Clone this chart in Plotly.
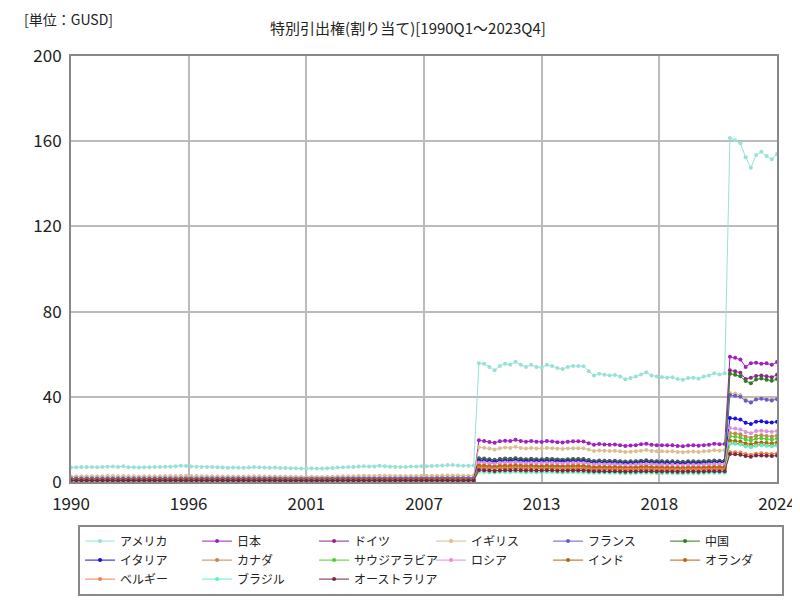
import plotly.graph_objects as go

quarters = [f"{y}Q{q}" for y in range(1990, 2024) for q in range(1, 5)]

names = ["アメリカ", "日本", "ドイツ", "イギリス", "フランス", "中国", "イタリア", "カナダ",
         "サウジアラビア", "ロシア", "インド", "オランダ", "ベルギー", "ブラジル", "オーストラリア"]
colors = ["#98e0d8", "#a020c0", "#8a2a8a", "#d8c090", "#6a5acd", "#2e7d1e", "#1a10e0", "#c08a50",
          "#50d030", "#e090d8", "#a86a10", "#c0600a", "#f08050", "#60f0c0", "#7a2840"]

us = [6.8,6.9,7.0,7.1, 7.0,6.9,7.1,7.2, 7.3,7.0,7.4,6.9, 6.9,6.8,6.9,6.9, 7.0,7.1,7.2,7.2,
      7.4,7.6,7.5,7.3, 7.2,7.1,7.0,7.0, 6.9,6.8,6.7,6.8, 6.7,6.7,6.8,7.0, 6.9,6.8,6.7,6.8,
      6.6,6.6,6.5,6.5, 6.3,6.3,6.4,6.3, 6.3,6.5,6.6,6.8, 6.9,7.0,7.0,7.3, 7.4,7.3,7.3,7.6,
      7.4,7.2,7.1,7.1, 7.1,7.3,7.3,7.4, 7.4,7.5,7.6,7.8, 8.0,8.0,7.7,7.6, 7.6,7.7,
      55.7,55.5,54.0,52.5,54.5,55.5,55.0,56.5,55.0,54.0,55.0,54.0,53.8,55.0,54.5,53.5,
      53.0,54.0,54.5,54.5,54.3,52.0,50.0,50.8,50.3,50.0,50.2,49.5,48.2,48.8,49.5,50.5,
      51.5,50.0,49.5,49.3,49.0,49.2,48.3,48.0,48.8,49.0,48.5,49.5,50.0,51.0,50.5,51.0,
      161.5,160.5,159.0,152.5,147.5,153.5,155.0,153.0,151.5,154.0]
japan = [1.2,1.2,1.3,1.3, 1.3,1.2,1.3,1.3, 1.3,1.3,1.4,1.3, 1.3,1.3,1.3,1.3, 1.3,1.4,1.4,1.4,
         1.4,1.5,1.4,1.4, 1.4,1.3,1.3,1.3, 1.3,1.3,1.2,1.3, 1.2,1.2,1.3,1.3, 1.3,1.3,1.2,1.3,
         1.2,1.2,1.2,1.2, 1.2,1.2,1.2,1.2, 1.2,1.2,1.3,1.3, 1.3,1.3,1.3,1.4, 1.4,1.4,1.4,1.4,
         1.4,1.4,1.3,1.3, 1.3,1.4,1.4,1.4, 1.4,1.4,1.5,1.5, 1.5,1.5,1.4,1.4, 1.4,1.4,
         19.6,19.3,18.8,18.4,19.1,19.4,19.2,19.8,19.3,18.9,19.2,18.9,18.8,19.2,19.0,18.7,
         18.6,18.9,19.1,19.1,19.0,18.2,17.5,17.8,17.6,17.5,17.6,17.3,16.9,17.1,17.3,17.7,
         18.0,17.5,17.3,17.3,17.2,17.2,16.9,16.8,17.1,17.2,17.0,17.3,17.5,17.9,17.7,17.8,
         58.8,58.3,57.5,54.0,55.8,56.0,55.5,55.7,55.0,56.3]
germany = [1.7,1.7,1.8,1.8, 1.8,1.7,1.8,1.8, 1.8,1.7,1.8,1.7, 1.7,1.7,1.7,1.7, 1.7,1.8,1.8,1.8,
           1.8,1.9,1.9,1.8, 1.8,1.8,1.8,1.8, 1.7,1.7,1.7,1.7, 1.7,1.7,1.7,1.8, 1.7,1.7,1.7,1.7,
           1.7,1.7,1.6,1.6, 1.6,1.6,1.6,1.6, 1.6,1.6,1.7,1.7, 1.7,1.8,1.8,1.8, 1.9,1.8,1.8,1.9,
           1.9,1.8,1.8,1.8, 1.8,1.8,1.8,1.9, 1.9,1.9,1.9,2.0, 2.0,2.0,1.9,1.9, 1.9,1.9,
           11.1,11.0,10.7,10.4,10.8,11.0,10.9,11.2,10.9,10.7,10.9,10.7,10.7,10.9,10.8,10.6,
           10.5,10.7,10.8,10.8,10.8,10.3,9.9,10.1,10.0,9.9,10.0,9.8,9.6,9.7,9.8,10.0,
           10.2,9.9,9.8,9.8,9.7,9.8,9.6,9.5,9.7,9.7,9.6,9.8,9.9,10.1,10.0,10.1,
           52.5,52.0,51.3,48.4,48.9,49.8,50.0,49.6,49.2,50.3]
uk = [2.6,2.7,2.7,2.7, 2.7,2.7,2.7,2.8, 2.8,2.7,2.8,2.7, 2.7,2.6,2.7,2.7, 2.7,2.7,2.8,2.8,
      2.8,2.9,2.9,2.8, 2.8,2.7,2.7,2.7, 2.7,2.6,2.6,2.6, 2.6,2.6,2.6,2.7, 2.7,2.6,2.6,2.6,
      2.6,2.6,2.5,2.5, 2.4,2.4,2.5,2.4, 2.4,2.5,2.5,2.6, 2.7,2.7,2.7,2.8, 2.9,2.8,2.8,2.9,
      2.9,2.8,2.8,2.8, 2.8,2.8,2.8,2.9, 2.9,2.9,2.9,3.0, 3.1,3.1,3.0,2.9, 2.9,3.0,
      16.3,16.1,15.7,15.3,15.9,16.2,16.0,16.5,16.0,15.7,16.0,15.7,15.7,16.0,15.9,15.6,
      15.5,15.7,15.9,15.9,15.8,15.2,14.6,14.8,14.7,14.6,14.7,14.4,14.1,14.2,14.4,14.7,
      15.0,14.6,14.4,14.4,14.3,14.4,14.1,14.0,14.2,14.3,14.1,14.4,14.6,14.9,14.7,14.9,
      41.8,41.5,40.9,38.7,37.6,39.2,39.6,39.1,38.8,39.4]
france = [1.6,1.6,1.6,1.6, 1.6,1.6,1.6,1.7, 1.7,1.6,1.7,1.6, 1.6,1.6,1.6,1.6, 1.6,1.6,1.7,1.7,
          1.7,1.7,1.7,1.7, 1.7,1.6,1.6,1.6, 1.6,1.6,1.6,1.6, 1.6,1.6,1.6,1.6, 1.6,1.6,1.6,1.6,
          1.5,1.5,1.5,1.5, 1.5,1.5,1.5,1.5, 1.5,1.5,1.5,1.6, 1.6,1.6,1.6,1.7, 1.7,1.7,1.7,1.7,
          1.7,1.7,1.6,1.6, 1.6,1.7,1.7,1.7, 1.7,1.7,1.8,1.8, 1.8,1.8,1.8,1.8, 1.8,1.8,
          10.4,10.3,10.0,9.8,10.1,10.3,10.2,10.5,10.2,10.0,10.2,10.0,10.0,10.2,10.1,9.9,
          9.8,10.0,10.1,10.1,10.1,9.7,9.3,9.4,9.3,9.3,9.3,9.2,9.0,9.1,9.2,9.4,
          9.6,9.3,9.2,9.2,9.1,9.2,9.0,8.9,9.1,9.1,9.0,9.2,9.3,9.5,9.4,9.5,
          40.8,40.5,40.0,38.2,37.3,38.7,39.1,38.6,38.3,38.9]
china = [0.3,0.3,0.3,0.3, 0.3,0.3,0.3,0.3, 0.3,0.3,0.3,0.3, 0.3,0.3,0.3,0.3, 0.3,0.3,0.3,0.3,
         0.3,0.3,0.3,0.3, 0.3,0.3,0.3,0.3, 0.3,0.3,0.3,0.3, 0.3,0.3,0.3,0.3, 0.3,0.3,0.3,0.3,
         0.3,0.3,0.3,0.3, 0.3,0.3,0.3,0.3, 0.3,0.3,0.3,0.3, 0.3,0.3,0.3,0.3, 0.3,0.3,0.3,0.3,
         0.3,0.3,0.3,0.3, 0.3,0.3,0.3,0.3, 0.3,0.3,0.3,0.3, 0.4,0.4,0.3,0.3, 0.3,0.3,
         10.9,10.8,10.5,10.2,10.6,10.8,10.7,11.0,10.7,10.5,10.7,10.5,10.5,10.7,10.6,10.4,
         10.3,10.5,10.6,10.6,10.6,10.1,9.7,9.9,9.8,9.7,9.8,9.6,9.4,9.5,9.6,9.8,
         10.0,9.7,9.6,9.6,9.5,9.6,9.4,9.3,9.5,9.5,9.4,9.6,9.7,9.9,9.8,9.9,
         50.8,50.4,49.6,47.4,46.4,48.1,48.6,48.0,47.5,48.3]
italy = [1.0,1.0,1.0,1.0, 1.0,1.0,1.0,1.0, 1.0,1.0,1.1,1.0, 1.0,1.0,1.0,1.0, 1.0,1.0,1.1,1.1,
         1.1,1.1,1.1,1.1, 1.1,1.0,1.0,1.0, 1.0,1.0,1.0,1.0, 1.0,1.0,1.0,1.0, 1.0,1.0,1.0,1.0,
         1.0,1.0,0.9,0.9, 0.9,0.9,0.9,0.9, 0.9,0.9,1.0,1.0, 1.0,1.0,1.0,1.1, 1.1,1.1,1.1,1.1,
         1.1,1.0,1.0,1.0, 1.0,1.1,1.1,1.1, 1.1,1.1,1.1,1.1, 1.2,1.2,1.1,1.1, 1.1,1.1,
         10.0,9.9,9.7,9.4,9.8,9.9,9.8,10.1,9.8,9.7,9.8,9.7,9.7,9.8,9.8,9.6,
         9.5,9.7,9.8,9.8,9.7,9.3,9.0,9.1,9.0,9.0,9.0,8.9,8.7,8.8,8.9,9.1,
         9.2,9.0,8.9,8.9,8.8,8.9,8.7,8.6,8.8,8.8,8.7,8.9,9.0,9.2,9.1,9.2,
         30.0,29.8,29.3,27.8,27.2,28.3,28.5,28.1,27.9,28.3]
canada = [1.1,1.1,1.1,1.1, 1.1,1.1,1.1,1.1, 1.1,1.1,1.1,1.1, 1.1,1.1,1.1,1.1, 1.1,1.1,1.1,1.1,
          1.2,1.2,1.2,1.2, 1.2,1.1,1.1,1.1, 1.1,1.1,1.1,1.1, 1.1,1.1,1.1,1.1, 1.1,1.1,1.1,1.1,
          1.0,1.0,1.0,1.0, 1.0,1.0,1.0,1.0, 1.0,1.0,1.0,1.1, 1.1,1.1,1.1,1.1, 1.2,1.1,1.1,1.2,
          1.2,1.1,1.1,1.1, 1.1,1.1,1.1,1.2, 1.2,1.2,1.2,1.2, 1.3,1.3,1.2,1.2, 1.2,1.2,
          8.0,7.9,7.7,7.5,7.8,7.9,7.9,8.1,7.9,7.7,7.9,7.7,7.7,7.9,7.8,7.7,
          7.6,7.7,7.8,7.8,7.8,7.5,7.2,7.3,7.2,7.2,7.2,7.1,6.9,7.0,7.1,7.3,
          7.4,7.2,7.1,7.1,7.0,7.1,6.9,6.9,7.0,7.0,7.0,7.1,7.2,7.3,7.3,7.3,
          23.0,22.8,22.4,21.3,20.8,21.7,21.9,21.6,21.4,21.8]
saudi = [0.3,0.3,0.3,0.3, 0.3,0.3,0.3,0.3, 0.3,0.3,0.3,0.3, 0.3,0.3,0.3,0.3, 0.3,0.3,0.3,0.3,
         0.3,0.3,0.3,0.3, 0.3,0.3,0.3,0.3, 0.3,0.3,0.3,0.3, 0.3,0.3,0.3,0.3, 0.3,0.3,0.3,0.3,
         0.3,0.3,0.3,0.3, 0.3,0.3,0.3,0.3, 0.3,0.3,0.3,0.3, 0.3,0.3,0.3,0.3, 0.3,0.3,0.3,0.3,
         0.3,0.3,0.3,0.3, 0.3,0.3,0.3,0.3, 0.3,0.3,0.3,0.3, 0.3,0.3,0.3,0.3, 0.3,0.3,
         7.2,7.1,6.9,6.7,7.0,7.1,7.1,7.3,7.1,6.9,7.1,6.9,6.9,7.1,7.0,6.9,
         6.8,6.9,7.0,7.0,7.0,6.7,6.4,6.5,6.5,6.4,6.5,6.4,6.2,6.3,6.4,6.5,
         6.6,6.4,6.4,6.4,6.3,6.3,6.2,6.2,6.3,6.3,6.2,6.4,6.4,6.6,6.5,6.6,
         21.5,21.3,20.9,19.9,19.5,20.3,20.5,20.2,20.0,20.4]
russia = [0.0,0.0,0.0,0.0, 0.0,0.0,0.0,0.0, 0.0,0.0,0.0,0.0, 0.0,0.0,0.0,0.0, 0.0,0.0,0.0,0.0,
          0.0,0.0,0.0,0.0, 0.0,0.0,0.0,0.0, 0.0,0.0,0.0,0.0, 0.0,0.0,0.0,0.0, 0.0,0.0,0.0,0.0,
          0.0,0.0,0.0,0.0, 0.0,0.0,0.0,0.0, 0.0,0.0,0.0,0.0, 0.0,0.0,0.0,0.0, 0.0,0.0,0.0,0.0,
          0.0,0.0,0.0,0.0, 0.0,0.0,0.0,0.0, 0.0,0.0,0.0,0.0, 0.0,0.0,0.0,0.0, 0.0,0.0,
          9.2,9.1,8.9,8.6,9.0,9.1,9.0,9.3,9.0,8.9,9.0,8.9,8.9,9.0,9.0,8.8,
          8.7,8.9,9.0,9.0,8.9,8.6,8.3,8.4,8.3,8.3,8.3,8.2,8.0,8.1,8.2,8.3,
          8.5,8.3,8.2,8.2,8.1,8.2,8.0,7.9,8.1,8.1,8.0,8.2,8.3,8.4,8.4,8.4,
          25.3,25.1,24.7,23.5,22.9,23.9,24.1,23.8,23.6,24.0]
india = [0.9,0.9,0.9,0.9, 0.9,0.9,0.9,0.9, 0.9,0.9,0.9,0.9, 0.9,0.9,0.9,0.9, 0.9,0.9,0.9,0.9,
         1.0,1.0,1.0,1.0, 1.0,0.9,0.9,0.9, 0.9,0.9,0.9,0.9, 0.9,0.9,0.9,0.9, 0.9,0.9,0.9,0.9,
         0.9,0.9,0.8,0.8, 0.8,0.8,0.8,0.8, 0.8,0.8,0.9,0.9, 0.9,0.9,0.9,0.9, 1.0,0.9,0.9,1.0,
         1.0,0.9,0.9,0.9, 0.9,0.9,0.9,1.0, 1.0,1.0,1.0,1.0, 1.0,1.0,1.0,1.0, 1.0,1.0,
         6.6,6.5,6.3,6.2,6.4,6.5,6.5,6.7,6.5,6.4,6.5,6.4,6.3,6.5,6.4,6.3,
         6.3,6.4,6.4,6.4,6.4,6.2,5.9,6.0,6.0,5.9,6.0,5.9,5.7,5.8,5.9,6.0,
         6.1,5.9,5.9,5.9,5.8,5.8,5.7,5.7,5.8,5.8,5.8,5.9,5.9,6.1,6.0,6.1,
         19.5,19.3,19.0,18.1,17.7,18.4,18.6,18.3,18.2,18.5]
netherlands = [0.8,0.8,0.8,0.8, 0.8,0.8,0.8,0.8, 0.8,0.8,0.8,0.8, 0.8,0.8,0.8,0.8, 0.8,0.8,0.8,0.8,
               0.8,0.8,0.8,0.8, 0.8,0.8,0.8,0.8, 0.8,0.8,0.8,0.8, 0.8,0.8,0.8,0.8, 0.8,0.8,0.8,0.8,
               0.7,0.7,0.7,0.7, 0.7,0.7,0.7,0.7, 0.7,0.7,0.7,0.8, 0.8,0.8,0.8,0.8, 0.8,0.8,0.8,0.8,
               0.8,0.8,0.8,0.8, 0.8,0.8,0.8,0.8, 0.8,0.8,0.8,0.8, 0.9,0.9,0.8,0.8, 0.8,0.8,
               7.6,7.5,7.3,7.1,7.4,7.5,7.5,7.7,7.5,7.3,7.5,7.3,7.3,7.5,7.4,7.3,
               7.2,7.3,7.4,7.4,7.4,7.1,6.8,6.9,6.9,6.8,6.9,6.7,6.6,6.6,6.7,6.9,
               7.0,6.8,6.7,6.7,6.7,6.7,6.6,6.5,6.6,6.7,6.6,6.7,6.8,6.9,6.9,6.9,
               18.3,18.2,17.9,17.0,16.6,17.3,17.5,17.2,17.1,17.4]
belgium = [0.7,0.7,0.7,0.7, 0.7,0.7,0.7,0.7, 0.7,0.7,0.7,0.7, 0.7,0.7,0.7,0.7, 0.7,0.7,0.7,0.7,
           0.7,0.7,0.7,0.7, 0.7,0.7,0.7,0.7, 0.7,0.7,0.7,0.7, 0.7,0.7,0.7,0.7, 0.7,0.7,0.7,0.7,
           0.6,0.6,0.6,0.6, 0.6,0.6,0.6,0.6, 0.6,0.6,0.6,0.7, 0.7,0.7,0.7,0.7, 0.7,0.7,0.7,0.7,
           0.7,0.7,0.7,0.7, 0.7,0.7,0.7,0.7, 0.7,0.7,0.7,0.7, 0.7,0.7,0.7,0.7, 0.7,0.7,
           6.5,6.4,6.3,6.1,6.3,6.4,6.4,6.6,6.4,6.3,6.4,6.3,6.2,6.4,6.3,6.2,
           6.2,6.3,6.3,6.3,6.3,6.0,5.8,5.9,5.9,5.8,5.9,5.8,5.6,5.7,5.8,5.9,
           6.0,5.8,5.8,5.8,5.7,5.7,5.6,5.6,5.7,5.7,5.7,5.8,5.8,5.9,5.9,5.9,
           14.1,14.0,13.8,13.1,12.8,13.3,13.5,13.3,13.2,13.4]
brazil = [0.5,0.5,0.5,0.5, 0.5,0.5,0.5,0.5, 0.5,0.5,0.5,0.5, 0.5,0.5,0.5,0.5, 0.5,0.5,0.5,0.5,
          0.5,0.5,0.5,0.5, 0.5,0.5,0.5,0.5, 0.5,0.5,0.5,0.5, 0.5,0.5,0.5,0.5, 0.5,0.5,0.5,0.5,
          0.5,0.5,0.4,0.4, 0.4,0.4,0.4,0.4, 0.4,0.4,0.5,0.5, 0.5,0.5,0.5,0.5, 0.5,0.5,0.5,0.5,
          0.5,0.5,0.5,0.5, 0.5,0.5,0.5,0.5, 0.5,0.5,0.5,0.5, 0.5,0.5,0.5,0.5, 0.5,0.5,
          4.8,4.7,4.6,4.5,4.7,4.7,4.7,4.8,4.7,4.6,4.7,4.6,4.6,4.7,4.7,4.6,
          4.5,4.6,4.7,4.7,4.6,4.4,4.3,4.3,4.3,4.3,4.3,4.2,4.1,4.2,4.2,4.3,
          4.4,4.3,4.2,4.2,4.2,4.2,4.1,4.1,4.2,4.2,4.1,4.2,4.3,4.4,4.3,4.4,
          18.0,17.9,17.6,16.7,16.4,17.0,17.2,17.0,16.8,17.1]
australia = [0.7,0.7,0.7,0.7, 0.7,0.7,0.7,0.7, 0.7,0.7,0.7,0.7, 0.7,0.7,0.7,0.7, 0.7,0.7,0.7,0.7,
             0.7,0.7,0.7,0.7, 0.7,0.7,0.7,0.7, 0.7,0.7,0.7,0.7, 0.7,0.7,0.7,0.7, 0.7,0.7,0.7,0.7,
             0.6,0.6,0.6,0.6, 0.6,0.6,0.6,0.6, 0.6,0.6,0.6,0.7, 0.7,0.7,0.7,0.7, 0.7,0.7,0.7,0.7,
             0.7,0.7,0.7,0.7, 0.7,0.7,0.7,0.7, 0.7,0.7,0.7,0.7, 0.7,0.7,0.7,0.7, 0.7,0.7,
             5.6,5.5,5.4,5.2,5.4,5.5,5.5,5.6,5.5,5.4,5.5,5.4,5.4,5.5,5.5,5.3,
             5.3,5.4,5.4,5.4,5.4,5.2,5.0,5.1,5.0,5.0,5.0,4.9,4.8,4.9,4.9,5.0,
             5.1,5.0,4.9,4.9,4.9,4.9,4.8,4.8,4.9,4.9,4.8,4.9,5.0,5.1,5.0,5.1,
             13.1,13.0,12.8,12.2,11.9,12.4,12.5,12.3,12.2,12.4]

series = [us, japan, germany, uk, france, china, italy, canada, saudi, russia,
          india, netherlands, belgium, brazil, australia]

tick_years = ["1990", "1996", "2001", "2007", "2013", "2018", "2024"]
n = len(quarters)
tick_pos = [(n - 1) * i / 6 for i in range(7)]

fig = go.Figure()
for name, col, vals in zip(names, colors, series):
    fig.add_trace(go.Scatter(x=quarters, y=vals, name=name, mode="lines+markers",
                             line=dict(color=col, width=1), marker=dict(color=col, size=4)))

font = "Noto Sans CJK JP"
fig.update_layout(
    width=800, height=600, plot_bgcolor="white", paper_bgcolor="white",
    margin=dict(l=63, r=29, t=48, b=113),
    font=dict(family=font, color="#222", size=13),
    title=dict(text="特別引出権(割り当て)[1990Q1～2023Q4]", x=0.5, xanchor="center",
               y=0.975, font=dict(size=15)),
    showlegend=True,
    legend=dict(orientation="h", x=0.01, y=-0.1, xanchor="left", yanchor="top",
                bordercolor="#888", borderwidth=2, font=dict(size=12),
                itemwidth=30, entrywidth=72, entrywidthmode="pixels", tracegroupgap=0),
    annotations=[dict(text="[単位：GUSD]", xref="paper", yref="paper", x=-0.07, y=1.115,
                      xanchor="left", yanchor="top", showarrow=False, font=dict(size=14))],
)
fig.update_xaxes(type="category", range=[0, n - 1], tickmode="array", tickvals=tick_pos,
                 ticktext=tick_years, showgrid=True, gridcolor="#bbb", gridwidth=1.5,
                 showline=True, linecolor="#888", linewidth=2, mirror=True,
                 tickfont=dict(size=17), ticks="", ticklabelstandoff=6)
fig.update_yaxes(range=[0, 200], tickvals=[0, 40, 80, 120, 160, 200], showgrid=True,
                 gridcolor="#bbb", gridwidth=1.5, showline=True, linecolor="#888",
                 linewidth=2, mirror=True, tickfont=dict(size=17), zeroline=False,
                 ticklabelstandoff=4)

fig.write_html("out.html")
